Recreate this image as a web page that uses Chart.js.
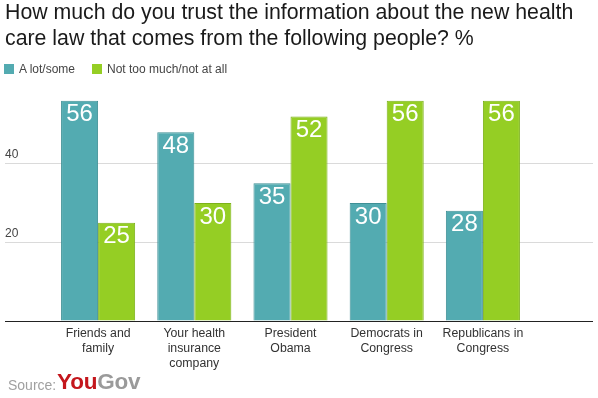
<!DOCTYPE html>
<html>
<head>
<meta charset="utf-8">
<script src="https://cdn.jsdelivr.net/npm/chart.js@4.4.1/dist/chart.umd.min.js"></script>
<style>
  html, body { margin: 0; padding: 0; background: #fff; }
  #wrap { position: relative; width: 598px; height: 398px; background: #fff; overflow: hidden;
          font-family: "Liberation Sans", Arial, sans-serif; }
  #c { position: absolute; left: 0; top: 0; }
  #title { position: absolute; left: 5px; top: -1px; font-size: 21.3px; line-height: 26px; color: #1a1a1a; white-space: nowrap; }
  .sq { position: absolute; width: 10px; height: 10px; top: 64px; }
  .lg { position: absolute; top: 62px; font-size: 12px; line-height: 14px; color: #444; white-space: nowrap; }
  #src { position: absolute; left: 8px; top: 377px; font-size: 14px; line-height: 16px; color: #a0a0a0; }
  #yg { position: absolute; left: 57px; top: 370px; font-size: 22.5px; line-height: 24px; font-weight: bold; color: #9a9a9a; letter-spacing: -0.2px; }
  #yg .you { color: #c4161c; }
</style>
</head>
<body>
<div id="wrap">
  <canvas id="c" width="598" height="398"></canvas>
  <div id="title"></div>
  <div class="sq" id="sq0" style="left:4px"></div>
  <div class="lg" id="lg0" style="left:19px"></div>
  <div class="sq" id="sq1" style="left:92px"></div>
  <div class="lg" id="lg1" style="left:107px"></div>
  <div id="src">Source:</div>
  <div id="yg"><span class="you">You</span>Gov</div>
</div>
<script>
// ---- data ----
const titleLines = ["How much do you trust the information about the new health", "care law that comes from the following people? %"];
const categories = [["Friends and", "family"], ["Your health", "insurance", "company"], ["President", "Obama"], ["Democrats in", "Congress"], ["Republicans in", "Congress"]];
const seriesNames = ["A lot/some", "Not too much/not at all"];
const aLotSome = [56, 48, 35, 30, 28];
const notTooMuch = [25, 30, 52, 56, 56];
const yTickLabels = [20, 40];
const yMax = 60;

// ---- styles ----
const teal = '#53abb1', tealBorder = '#3f9096';
const green = '#95ce24', greenBorder = '#7db21a';
const FONT = '"Liberation Sans", Arial, sans-serif';

document.getElementById('title').innerHTML = titleLines.join('<br>');
document.getElementById('lg0').textContent = seriesNames[0];
document.getElementById('lg1').textContent = seriesNames[1];
document.getElementById('sq0').style.background = teal;
document.getElementById('sq1').style.background = green;

function gridColor(ctx) {
  const v = ctx.tick ? ctx.tick.value : null;
  if (v === 0) return '#222';
  if (yTickLabels.includes(v)) return '#dadada';
  return 'rgba(0,0,0,0)';
}

const valueLabels = {
  id: 'valueLabels',
  afterDatasetsDraw(chart) {
    const ctx = chart.ctx;
    ctx.save();
    ctx.fillStyle = '#fff';
    ctx.font = '24px ' + FONT;
    ctx.textAlign = 'center';
    ctx.textBaseline = 'middle';
    chart.data.datasets.forEach((ds, di) => {
      const meta = chart.getDatasetMeta(di);
      meta.data.forEach((el, i) => {
        ctx.fillText(String(ds.data[i]), el.x, el.y + 14);
      });
    });
    ctx.restore();
  }
};

new Chart(document.getElementById('c'), {
  type: 'bar',
  data: {
    labels: categories,
    datasets: [
      { label: seriesNames[0], data: aLotSome, backgroundColor: teal, borderColor: tealBorder, borderWidth: 1 },
      { label: seriesNames[1], data: notTooMuch, backgroundColor: green, borderColor: greenBorder, borderWidth: 1 }
    ]
  },
  options: {
    responsive: false,
    animation: false,
    events: [],
    layout: { padding: { left: 5, right: 5, top: 85, bottom: 0 } },
    datasets: { bar: { categoryPercentage: 0.77, barPercentage: 1.0 } },
    plugins: { legend: { display: false }, title: { display: false }, tooltip: { enabled: false } },
    scales: {
      x: {
        grid: { display: false, drawTicks: false },
        border: { display: false },
        ticks: { color: '#333', font: { family: FONT, size: 12.3, lineHeight: 1.22 }, padding: 5, maxRotation: 0, autoSkip: false },
        afterFit(s) { s.height = 77; }
      },
      y: {
        position: 'left',
        min: 0, max: yMax,
        grid: { color: gridColor, lineWidth: 1, drawTicks: true, tickLength: 45 },
        border: { display: false },
        ticks: {
          stepSize: 20,
          crossAlign: 'far',
          labelOffset: -9,
          padding: 0,
          color: '#444',
          font: { family: FONT, size: 12 },
          callback: (v) => yTickLabels.includes(v) ? String(v) : ''
        },
        afterFit(s) { s.width = 45; }
      },
      y2: {
        position: 'right',
        min: 0, max: yMax,
        grid: { color: gridColor, lineWidth: 1, drawOnChartArea: false, drawTicks: true, tickLength: 62 },
        border: { display: false },
        ticks: { stepSize: 20, display: false },
        afterFit(s) { s.width = 62; }
      }
    }
  },
  plugins: [valueLabels]
});
</script>
</body>
</html>
